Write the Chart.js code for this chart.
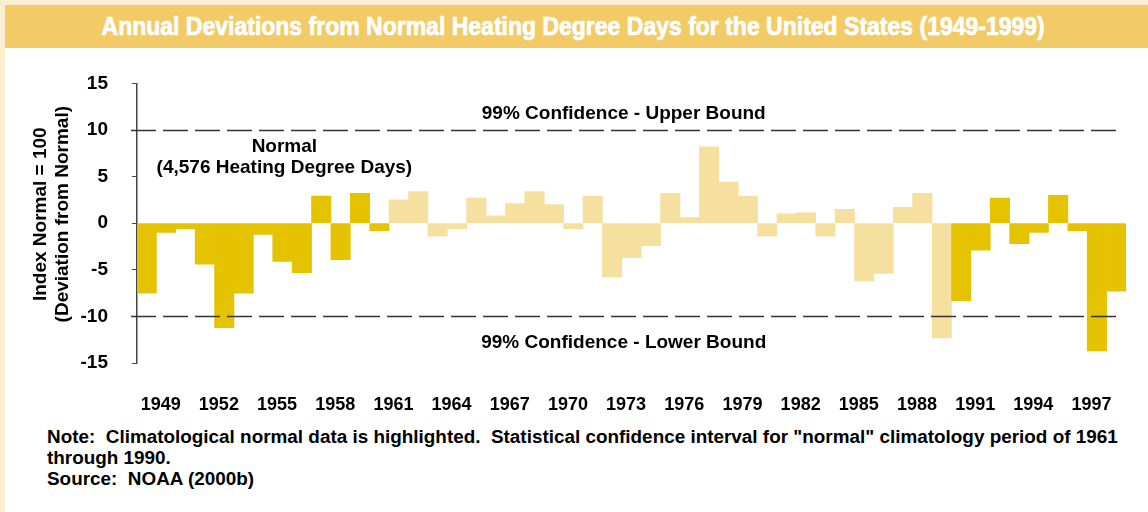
<!doctype html>
<meta charset="utf-8">
<title>Annual Deviations from Normal Heating Degree Days</title>
<style>
    body {
        margin: 0;
        width: 1148px;
        height: 512px;
        background: #fbefcf;
        font-family: "Liberation Sans", Arial, sans-serif;
        overflow: hidden;
    }
    .page {
        position: absolute;
        left: 5px;
        top: 5px;
        width: 1143px;
        height: 507px;
        background: #fff;
    }
    .banner {
        height: 43px;
        background: #f2cb66;
        display: flex;
        align-items: center;
        justify-content: center;
    }
    .banner span {
        display: inline-block;
        color: #fff;
        font-family: "Liberation Sans Narrow", "Arial Narrow", "Liberation Sans", sans-serif;
        font-weight: bold;
        font-size: 26px;
        -webkit-text-stroke: 0.7px #fff;
        white-space: nowrap;
        transform-origin: center;
        margin-left: -6px;
    }
    .chart {
        position: absolute;
        left: 0;
        top: 43px;
        width: 1143px;
        height: 372px;
    }
    .notes {
        position: absolute;
        left: 42px;
        top: 421px;
        font-weight: bold;
        font-size: 18.9px;
        line-height: 21px;
        color: #000;
        white-space: nowrap;
    }
</style>
<body>
    <div class="page">
        <div class="banner"><span id="banner">Annual Deviations from Normal Heating Degree Days for the United States (1949-1999)</span></div>
        <div class="chart"><canvas id="hdd"></canvas></div>
        <div class="notes">
            <div>Note:&nbsp; Climatological normal data is highlighted.&nbsp; Statistical confidence interval for "normal" climatology period of 1961</div>
            <div>through 1990.</div>
            <div>Source:&nbsp; NOAA (2000b)</div>
        </div>
    </div>
    <script src="https://cdn.jsdelivr.net/npm/chart.js@4.4.1/dist/chart.umd.min.js"></script>
    <script>
        // years 1949..1999
        const years = ["1949", "1950", "1951", "1952", "1953", "1954", "1955", "1956", "1957", "1958",
            "1959", "1960", "1961", "1962", "1963", "1964", "1965", "1966", "1967", "1968",
            "1969", "1970", "1971", "1972", "1973", "1974", "1975", "1976", "1977", "1978",
            "1979", "1980", "1981", "1982", "1983", "1984", "1985", "1986", "1987", "1988",
            "1989", "1990", "1991", "1992", "1993", "1994", "1995", "1996", "1997", "1998", "1999"];

        // deviation from normal (index, normal = 100)
        const deviations = [-7.5, -1.0, -0.6, -4.4, -11.2, -7.5, -1.2, -4.1, -5.3, 2.9,
            -3.9, 3.2, -0.8, 2.5, 3.4, -1.4, -0.6, 2.7, 0.8, 2.1,
            3.4, 2.0, -0.6, 2.9, -5.8, -3.7, -2.4, 3.2, 0.6, 8.2,
            4.4, 2.9, -1.4, 1.0, 1.1, -1.4, 1.5, -6.2, -5.4, 1.7,
            3.2, -12.3, -8.3, -2.9, 2.7, -2.2, -1.0, 3.0, -0.8, -13.7, -7.3];

        // years drawn in the pale "climatological normal" colour
        const normalPeriod = ["1962", "1990"];

        const confidenceBounds = [10, -10];
        const yTicks = [-15, -10, -5, 0, 5, 10, 15];
        const yTitle = ["Index Normal = 100", "(Deviation from Normal)"];

        const dark = "#e6c300";
        const pale = "#f5e0a0";

        const barColors = years.map(y => (y >= normalPeriod[0] && y <= normalPeriod[1]) ? pale : dark);

        // stretch the banner text to the width it has in the original
        const banner = document.getElementById("banner");
        banner.style.transform = "scaleX(" + (943 / banner.offsetWidth) + ")";

        const fontFamily = "'Liberation Sans', Arial, sans-serif";
        const boldFont = { family: fontFamily, weight: "bold", size: 19 };

        const labels = [
            { text: "99% Confidence - Upper Bound", x: 24.6, y: 11.7 },
            { text: "99% Confidence - Lower Bound", x: 24.6, y: -12.85 },
            { text: "Normal", x: 7.1, y: 8.2 },
            { text: "(4,576 Heating Degree Days)", x: 7.1, y: 6.0 },
        ];

        const overlay = {
            id: "overlay",
            afterDatasetsDraw(chart) {
                const { ctx, chartArea, scales } = chart;
                ctx.save();
                ctx.strokeStyle = "#333";
                ctx.lineWidth = 1.5;
                ctx.setLineDash([25, 7]);
                for (const b of confidenceBounds) {
                    const py = Math.round(scales.y.getPixelForValue(b)) + 0.5;
                    ctx.beginPath();
                    ctx.moveTo(chartArea.left - 6, py);
                    ctx.lineTo(chartArea.right - 6, py);
                    ctx.stroke();
                }
                ctx.setLineDash([]);
                ctx.fillStyle = "#000";
                ctx.font = "bold 19px " + fontFamily;
                ctx.textAlign = "center";
                ctx.textBaseline = "middle";
                for (const l of labels) {
                    ctx.fillText(l.text, scales.x.getPixelForValue(l.x), scales.y.getPixelForValue(l.y));
                }
                // y axis title, sits a little above the axis middle in the original
                ctx.translate(36, (chartArea.top + chartArea.bottom) / 2 - 9);
                ctx.rotate(-Math.PI / 2);
                yTitle.forEach((t, i) => ctx.fillText(t, 0, i * 22));
                ctx.restore();
            }
        };

        new Chart(document.getElementById("hdd"), {
            type: "bar",
            data: {
                labels: years,
                datasets: [{
                    data: deviations,
                    backgroundColor: barColors,
                    borderWidth: 0,
                    barPercentage: 1,
                    categoryPercentage: 1,
                }],
            },
            options: {
                responsive: true,
                maintainAspectRatio: false,
                animation: false,
                layout: { padding: { top: 33, right: 22, left: 0, bottom: 0 } },
                plugins: {
                    legend: { display: false },
                    tooltip: { enabled: false },
                },
                scales: {
                    x: {
                        grid: { display: false, drawTicks: false },
                        border: { display: false },
                        afterFit: s => { s.height = 57; },
                        ticks: {
                            autoSkip: false,
                            maxRotation: 0,
                            padding: 31,
                            labelOffset: 14,
                            color: "#000",
                            font: { ...boldFont, size: 18 },
                            callback: (v, i) => i % 3 === 0 ? years[i] : "",
                        },
                    },
                    y: {
                        min: -15,
                        max: 15,
                        afterFit: s => { s.width = 132; },
                        afterBuildTicks: s => { s.ticks = yTicks.map(v => ({ value: v })); },
                        grid: { drawOnChartArea: false, tickLength: 5, color: "#444" },
                        border: { color: "#444", width: 1.5 },
                        ticks: { padding: 24, color: "#000", font: boldFont },
                    },
                },
            },
            plugins: [overlay],
        });
    </script>
</body>
